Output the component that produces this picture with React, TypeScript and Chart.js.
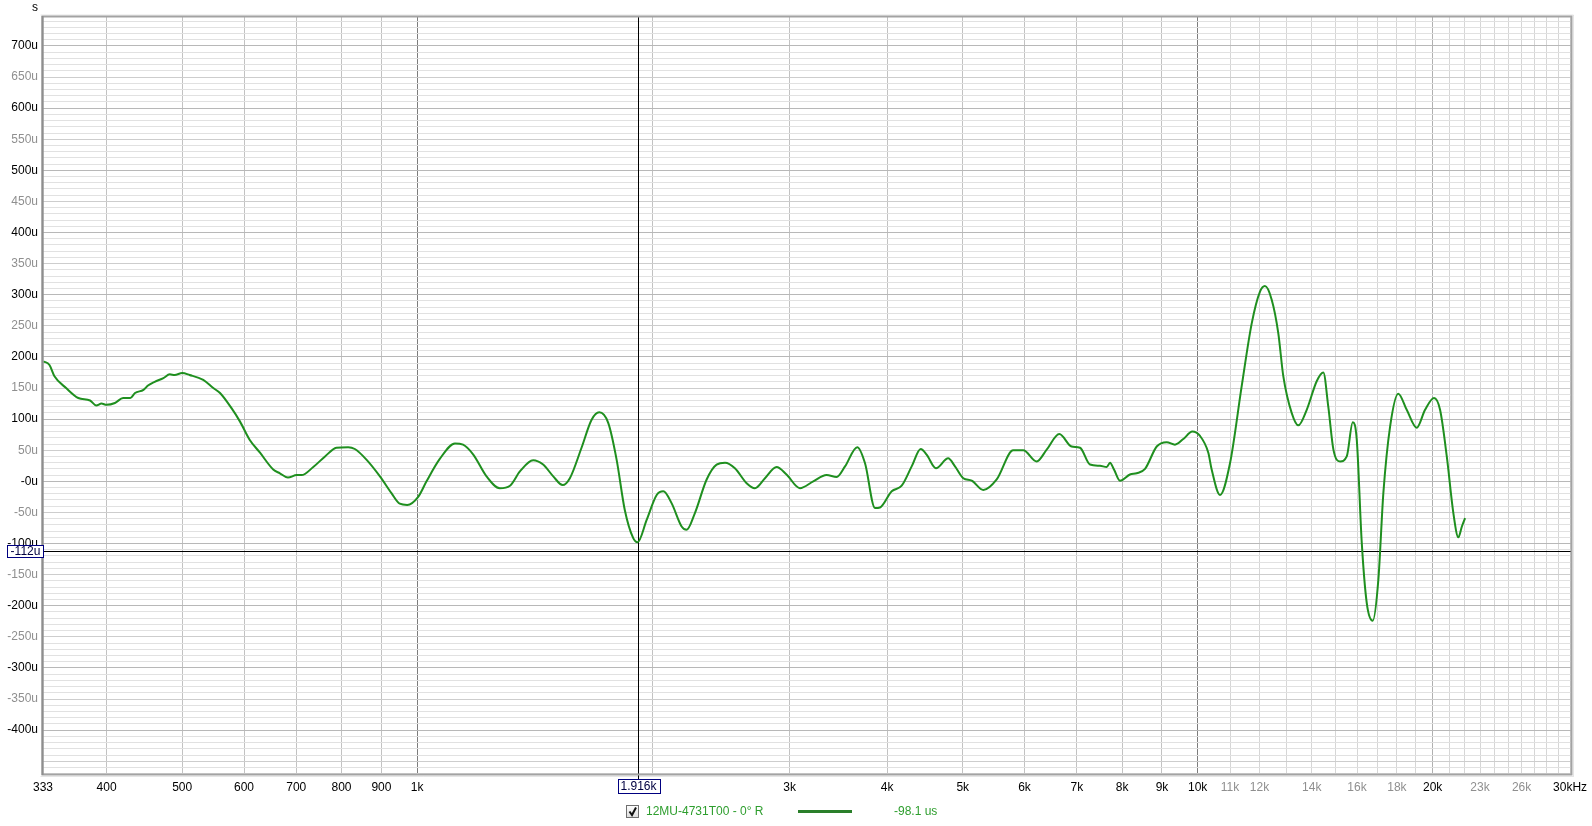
import React, { useEffect, useRef } from 'react';
import { Chart, registerables } from 'chart.js';

Chart.register(...registerables);

// ---- data (frequency in Hz, group delay in microseconds) ----
const freqHz = [
  332, 338, 343, 355, 368, 381, 388, 394, 400, 410, 420, 429, 435, 446, 452, 461, 473, 482, 489, 500,
  511, 532, 548, 559, 578, 593, 610, 629, 654, 667, 683, 701, 711, 736, 762, 788, 816, 832, 861, 896,
  927, 950, 971, 1003, 1028, 1069, 1118, 1145, 1180, 1227, 1276, 1315, 1354, 1408, 1450, 1494, 1536, 1569, 1624, 1673,
  1711, 1757, 1801, 1845, 1891, 1916, 1968, 2027, 2067, 2118, 2183, 2214, 2269, 2349, 2419, 2480, 2553, 2643, 2708, 2790,
  2887, 2973, 3093, 3217, 3346, 3447, 3533, 3663, 3748, 3860, 3917, 4055, 4176, 4301, 4417, 4495, 4620, 4790, 4887, 5008,
  5134, 5313, 5527, 5803, 5977, 6219, 6405, 6648, 6894, 7067, 7278, 7496, 7646, 7721, 7812, 7951, 8189, 8353, 8561, 8861,
  9126, 9352, 9584, 9842, 10069, 10318, 10421, 10681, 11000, 11386, 11728, 12018, 12196, 12440, 12685, 12873, 13195, 13456, 13794, 14206,
  14487, 14700, 14924, 15219, 15523, 15801, 15988, 16226, 16468, 16760, 17040, 17293, 17640, 18072, 18527, 19081, 19557, 20082, 20442, 20851,
  21260, 21576, 21796, 22008,
];
const delayMicroSec = [
  193, 187, 169, 150, 134, 130, 122, 125, 123, 126, 134, 134, 142, 147, 154, 160, 166, 172, 171, 174,
  171, 163, 150, 142, 118, 96, 67, 46, 19, 13, 6, 10, 10, 23, 40, 54, 55, 52, 35, 8,
  -19, -36, -38, -25, 0, 36, 61, 59, 43, 8, -11, -7, 16, 34, 27, 8, -6, 5, 54, 99,
  111, 94, 35, -46, -91, -98, -62, -22, -16, -35, -73, -78, -51, 3, 27, 30, 21, -3, -11, 5,
  23, 11, -11, 0, 10, 7, 24, 55, 29, -43, -42, -16, -7, 24, 52, 43, 21, 37, 24, 5,
  1, -14, 3, 50, 50, 32, 51, 76, 56, 54, 27, 25, 23, 30, 19, 1, 11, 13, 20, 56,
  63, 59, 68, 80, 73, 46, 19, -22, 29, 153, 254, 305, 314, 292, 238, 169, 110, 90, 115, 161,
  175, 120, 51, 32, 40, 95, 67, -99, -196, -224, -158, -19, 88, 141, 115, 86, 115, 134, 115, 40,
  -51, -90, -73, -59,
];

// ---- axes ----
const X_MIN = 331.6;
const X_MAX = 30080;
const Y_MIN = -470.5;
const Y_MAX = 746.5;

const xTickHz = [
  X_MIN, 400, 500, 600, 700, 800, 900, 1000,
  2000, 3000, 4000, 5000, 6000, 7000, 8000, 9000, 10000,
  11000, 12000, 13000, 14000, 15000, 16000, 17000, 18000, 19000, 20000,
  21000, 22000, 23000, 24000, 25000, 26000, 27000, 28000, 29000, 30000,
];
const xTickText = [
  '333', '400', '500', '600', '700', '800', '900', '1k',
  '', '3k', '4k', '5k', '6k', '7k', '8k', '9k', '10k',
  '11k', '12k', '', '14k', '', '16k', '', '18k', '', '20k',
  '', '', '23k', '', '', '26k', '', '', '', '30kHz',
];
const xGrayLabels = ['11k', '12k', '14k', '16k', '18k', '23k', '26k'];

const yTickStep = 10;
const yLabelStep = 50;

const cursorFreq = 1916;
const cursorFreqText = '1.916k';
const cursorDelay = -112;
const cursorDelayText = '-112u';
const seriesName = '12MU-4731T00 - 0\u00B0 R';
const seriesReadout = '-98.1 us';
const unitText = 's';

const FONT = '"Liberation Sans", Arial, sans-serif';
const CURVE = '#1f8f1f';

function xGridColor(v: number | undefined): string {
  if (v === undefined || v === X_MIN || v === X_MAX) return 'rgba(0,0,0,0)';
  if (v === 1000 || v === 10000) return '#7c7c7c';
  if (v === 20000) return '#b0b0b0';
  if (v > 10000) return '#d6d6d6';
  return '#c2c2c2';
}
function yGridColor(v: number | undefined): string {
  if (v === undefined) return 'rgba(0,0,0,0)';
  const r = Math.round(v);
  if (r % 100 === 0) return '#b8b8b8';
  if (r % 50 === 0) return '#cdcdcd';
  return '#e1e1e1';
}

const overlay = {
  id: 'overlay',
  beforeDatasetsDraw(chart: any) {
    const ctx = chart.ctx as CanvasRenderingContext2D;
    const { left, right, top, bottom } = chart.chartArea;
    const xs = chart.scales.x;
    const ys = chart.scales.y;
    const cx = Math.round(xs.getPixelForValue(cursorFreq)) + 0.5;
    const cy = Math.round(ys.getPixelForValue(cursorDelay)) + 0.5;
    ctx.save();
    ctx.strokeStyle = '#000';
    ctx.lineWidth = 1;
    ctx.beginPath();
    ctx.moveTo(cx, top);
    ctx.lineTo(cx, bottom + 5);
    ctx.moveTo(left, cy);
    ctx.lineTo(right, cy);
    ctx.stroke();
    ctx.restore();
  },
  afterDraw(chart: any) {
    const ctx = chart.ctx as CanvasRenderingContext2D;
    const { left, right, top, bottom } = chart.chartArea;
    const xs = chart.scales.x;
    const ys = chart.scales.y;
    ctx.save();
    // frame with soft shadow
    ctx.strokeStyle = 'rgba(0,0,0,0.10)';
    ctx.lineWidth = 1;
    ctx.beginPath();
    ctx.moveTo(left - 2.5, top - 2);
    ctx.lineTo(right + 2.5, top - 2);
    ctx.moveTo(right + 2.5, top - 2);
    ctx.lineTo(right + 2.5, bottom + 2.5);
    ctx.lineTo(left - 2.5, bottom + 2.5);
    ctx.stroke();
    ctx.strokeStyle = '#a3a3a3';
    ctx.lineWidth = 2;
    ctx.strokeRect(left - 0.5, top - 0.5, right - left + 1, bottom - top + 1);
    ctx.strokeStyle = '#8e8e8e';
    ctx.lineWidth = 2;
    ctx.beginPath();
    ctx.moveTo(left - 0.5, top - 1);
    ctx.lineTo(left - 0.5, bottom + 1);
    ctx.stroke();

    ctx.font = `12px ${FONT}`;
    ctx.textBaseline = 'middle';

    // unit label
    ctx.fillStyle = '#000';
    ctx.textAlign = 'center';
    ctx.fillText(unitText, 35, 8);

    // cursor readout boxes
    const cx = Math.round(xs.getPixelForValue(cursorFreq)) + 0.5;
    const cy = Math.round(ys.getPixelForValue(cursorDelay)) + 0.5;
    const bw = 42;
    const bx = Math.round(cx - bw / 2) + 0.5;
    ctx.fillStyle = '#fff';
    ctx.fillRect(bx, bottom + 5.5, bw, 14);
    ctx.strokeStyle = '#000080';
    ctx.lineWidth = 1;
    ctx.strokeRect(bx, bottom + 5.5, bw, 14);
    ctx.fillStyle = '#000040';
    ctx.fillText(cursorFreqText, cx, bottom + 13);

    const lb = 7.5;
    const lw = 36;
    ctx.fillStyle = '#fff';
    ctx.fillRect(lb, cy - 6, lw, 12);
    ctx.strokeRect(lb, cy - 6, lw, 12);
    ctx.fillStyle = '#000040';
    ctx.fillText(cursorDelayText, lb + lw / 2, cy + 0.5);

    // legend
    const ly = 811.5;
    const chk = 626.5;
    const grad = ctx.createLinearGradient(0, ly - 6, 0, ly + 6);
    grad.addColorStop(0, '#ffffff');
    grad.addColorStop(1, '#dcdcdc');
    ctx.fillStyle = grad;
    ctx.fillRect(chk, ly - 6, 12, 12);
    ctx.strokeStyle = '#6f6f6f';
    ctx.strokeRect(chk, ly - 6, 12, 12);
    ctx.strokeStyle = '#111';
    ctx.lineWidth = 2;
    ctx.beginPath();
    ctx.moveTo(chk + 3, ly);
    ctx.lineTo(chk + 5.5, ly + 3.5);
    ctx.lineTo(chk + 9.5, ly - 4);
    ctx.stroke();

    ctx.textAlign = 'left';
    ctx.fillStyle = '#2e9e2e';
    ctx.fillText(seriesName, 646, ly + 0.5);
    ctx.strokeStyle = '#2a7f2a';
    ctx.lineWidth = 3;
    ctx.beginPath();
    ctx.moveTo(798, ly);
    ctx.lineTo(852, ly);
    ctx.stroke();
    ctx.fillText(seriesReadout, 894, ly + 0.5);
    ctx.restore();
  },
};

export default function App() {
  const ref = useRef<HTMLCanvasElement>(null);
  useEffect(() => {
    const canvas = ref.current;
    if (!canvas) return;
    const yTicks: number[] = [];
    for (let v = Math.ceil(Y_MIN / yTickStep) * yTickStep; v <= Y_MAX; v += yTickStep) yTicks.push(v);

    const chart = new Chart(canvas, {
      type: 'line',
      data: {
        datasets: [
          {
            data: freqHz.map((f, i) => ({ x: f, y: delayMicroSec[i] })),
            borderColor: CURVE,
            borderWidth: 2,
            pointRadius: 0,
            cubicInterpolationMode: 'monotone',
            fill: false,
          },
        ],
      },
      options: {
        animation: false,
        responsive: false,
        devicePixelRatio: 1,
        events: [],
        layout: { padding: { top: 17, right: 21, left: 0, bottom: 0 } },
        plugins: { legend: { display: false }, tooltip: { enabled: false }, title: { display: false } },
        scales: {
          x: {
            type: 'logarithmic',
            min: X_MIN,
            max: X_MAX,
            border: { display: false },
            afterBuildTicks: (s: any) => {
              s.ticks = xTickHz.map((v) => ({ value: v }));
            },
            afterFit: (s: any) => {
              s.height = 52;
              s.paddingLeft = 0;
              s.paddingRight = 0;
            },
            grid: {
              drawTicks: false,
              lineWidth: 1,
              color: (c: any) => xGridColor(c.tick ? c.tick.value : undefined),
            },
            ticks: {
              autoSkip: false,
              maxRotation: 0,
              minRotation: 0,
              padding: 6,
              font: { family: FONT, size: 12 },
              color: (c: any) => {
                const i = xTickHz.indexOf(c.tick ? c.tick.value : -1);
                return i >= 0 && xGrayLabels.includes(xTickText[i]) ? '#8f8f8f' : '#000';
              },
              callback: (_v: any, i: number) => xTickText[i],
            },
          },
          y: {
            type: 'linear',
            min: Y_MIN,
            max: Y_MAX,
            border: { display: false },
            afterBuildTicks: (s: any) => {
              s.ticks = yTicks.map((v) => ({ value: v }));
            },
            afterFit: (s: any) => {
              s.width = 43;
              s.paddingTop = 0;
              s.paddingBottom = 0;
            },
            grid: {
              drawTicks: false,
              lineWidth: 1,
              color: (c: any) => yGridColor(c.tick ? c.tick.value : undefined),
            },
            ticks: {
              autoSkip: false,
              padding: 5,
              font: { family: FONT, size: 12 },
              color: (c: any) => {
                const v = c.tick ? Math.round(c.tick.value) : 1;
                return v % 100 === 0 ? '#000' : '#8f8f8f';
              },
              callback: (v: any) => {
                const n = Math.round(Number(v));
                if (n % yLabelStep !== 0) return '';
                if (n < -400 || n > 700) return '';
                return n === 0 ? '-0u' : `${n}u`;
              },
            },
          },
        },
      },
      plugins: [overlay],
    } as any);
    return () => chart.destroy();
  }, []);

  return (
    <div style={{ position: 'fixed', left: 0, top: 0, width: 1592, height: 826, background: '#fff' }}>
      <canvas ref={ref} width={1592} height={826} style={{ display: 'block', width: 1592, height: 826 }} />
    </div>
  );
}
